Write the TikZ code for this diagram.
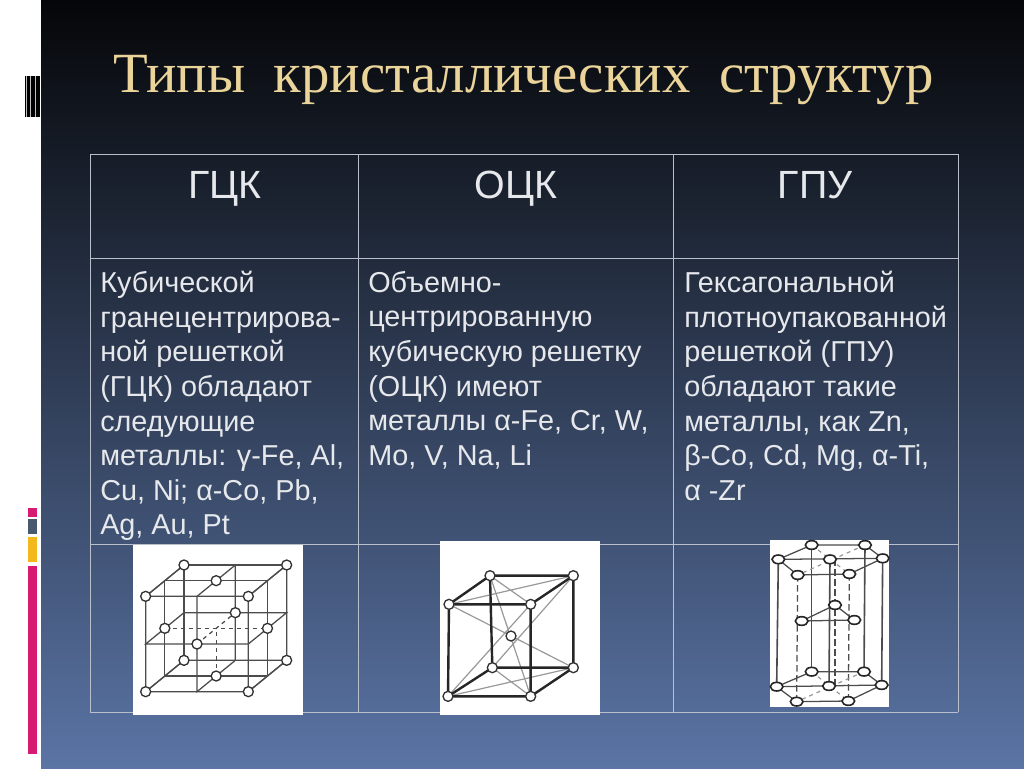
\documentclass[tikz,border=0pt]{standalone}
\usepackage{fontspec}
\usetikzlibrary{shapes.geometric}
\setmainfont{Liberation Sans}
\newfontfamily\titlefont{Liberation Serif}
\definecolor{bgtop}{HTML}{050608}
\definecolor{bgmid}{HTML}{20304A}
\definecolor{bgbot}{HTML}{5A74A4}
\definecolor{titlecol}{HTML}{EAD49A}
\definecolor{cellcol}{HTML}{E6E8EC}
\definecolor{rulecol}{HTML}{B9C0CC}
\definecolor{barpink}{HTML}{D81B72}
\definecolor{bargrey}{HTML}{4A5A6E}
\definecolor{baryellow}{HTML}{F2B81C}
\begin{document}
\begin{tikzpicture}[x=0.75pt,y=-0.75pt]

    \tikzset{
      titletext/.style={
        text=titlecol,
        anchor=base west,
        inner sep=0pt,
        font=\titlefont\fontsize{42.6}{42.6}\selectfont,
      },
      headtext/.style={
        text=cellcol,
        anchor=base,
        inner sep=0pt,
        font=\fontsize{29.5}{30}\selectfont,
      },
      celltext/.style={
        text=cellcol,
        anchor=north west,
        align=left,
        inner sep=0pt,
        font=\fontsize{21.6}{25.95}\selectfont,
      },
      tablerule/.style={color=rulecol,line width=0.7pt},
      thinbar/.style={line width=0.95pt,color=black!70},
      greybar/.style={line width=0.9pt,color=black!40},
      thickbar/.style={line width=1.8pt,color=black!85},
      atom/.style={circle,draw=black!80,fill=white,line width=1pt,inner sep=0pt,minimum size=7.5pt},
      hexatom/.style={ellipse,draw=black!85,fill=white,line width=1.2pt,inner sep=0pt,minimum width=9.5pt,minimum height=6.5pt},
      longdash/.style={dash pattern=on 5pt off 2.5pt},
    }
    \useasboundingbox (0,0) rectangle (1024,768);

    % page
    \shade[top color=bgtop,middle color=bgmid,bottom color=bgbot] (41,0) rectangle (1024,768);
    \fill[white] (0,0) rectangle (41,768);
    \fill[black] (25,76) rectangle (40,117);
    \foreach \x in {26.7,30.6,35.6}
      \fill[white!75!black] (\x-0.6,76) rectangle (\x+0.6,117);
    \fill[barpink] (28,508) rectangle (37,517);
    \fill[bargrey] (28,519) rectangle (37,534);
    \fill[baryellow] (28,537) rectangle (37,562);
    \fill[barpink] (28,566) rectangle (37,754);

    \node[titletext] (title) at (113,92) {Типы\ \ кристаллических\ \ структур};

    % table
    \foreach \n/\x in {a/90,b/358,c/673,d/958} {
      \coordinate (top\n) at (\x,154);
      \coordinate (bot\n) at (\x,712);
    }
    \foreach \n/\y in {a/154,b/258,c/544,d/712} {
      \coordinate (lft\n) at (90,\y);
      \coordinate (rgt\n) at (958,\y);
    }
    \foreach \n in {a,b,c,d} {
      \draw[tablerule] (top\n)--(bot\n);
      \draw[tablerule] (lft\n)--(rgt\n);
    }

    \node[headtext] (fcchead) at (225,198) {ГЦК};
    \node[headtext] (bcchead) at (516,198) {ОЦК};
    \node[headtext] (hcphead) at (815,198) {ГПУ};

    \node[celltext] (fcctext) at (100,271) {Кубической\\гранецентрирова-\\ной решеткой\\(ГЦК) обладают\\следующие\\металлы: γ-Fe, Al,\\Cu, Ni; α-Co, Pb,\\Ag, Au, Pt};
    \node[celltext] (bcctext) at (368,271) {Объемно-\\центрированную\\кубическую решетку\\(ОЦК) имеют\\металлы α-Fe, Cr, W,\\Mo, V, Na, Li};
    \node[celltext] (hcptext) at (684,271) {Гексагональной\\плотноупакованной\\решеткой (ГПУ)\\обладают такие\\металлы, как Zn,\\β-Co, Cd, Mg, α-Ti,\\α -Zr};

    % white backs of the cells
    \fill[white] (133,545) rectangle (303,715);
    \fill[white] (440,541) rectangle (600,715);
    \fill[white] (770,540) rectangle (889,707);

    % face centred cube
    \begin{scope}[shift={(125,535)},x=0.25pt,y=-0.25pt]
      \foreach \i in {0,1,2}
        \foreach \j in {0,1,2}
          \foreach \k in {0,1,2}
            \coordinate (f\i\j\k) at ({62+\i*154+\k*57.5},{470-\j*143-\k*47});
      \foreach \k in {0,1,2}
        \draw[thinbar] (f00\k)--(f20\k)--(f22\k)--(f02\k)--cycle;
      \foreach \i in {0,1,2} {
        \draw[thinbar] (f\i00)--(f\i02)--(f\i22)--(f\i20)--cycle;
        \draw[thinbar] (f0\i0)--(f0\i2)--(f2\i2)--(f2\i0)--cycle;
      }
      \draw[thinbar,dashed] (f101)--(f111);
      \draw[thinbar,dashed] (f011)--(f211);
      \draw[thinbar,dashed] (f110)--(f112);
      \foreach \p in {000,200,020,220,002,202,022,222,110,112,011,211,101,121}
        \node[atom] (fa\p) at (f\p) {};
    \end{scope}

    % body centred cube
    \begin{scope}[shift={(430,535)},x=0.25pt,y=-0.25pt]
      \foreach \n/\x/\y in {a/180/122,b/430/122,c/57/208,d/302/208,e/243/303,f/187/398,g/430/398,h/54/484,i/302/484}
        \coordinate (b\n) at (\x,\y);
      \draw[greybar] (bc)--(bb) (ba)--(bd) (bh)--(bg) (bf)--(bi);
      \draw[greybar] (bc)--(bg) (ba)--(bi) (bd)--(bh) (bb)--(bf);
      \draw[thickbar] (ba)--(bb)--(bd)--(bc)--cycle;
      \draw[thickbar] (bf)--(bg)--(bi)--(bh)--cycle;
      \draw[thickbar] (ba)--(bf) (bb)--(bg) (bc)--(bh) (bd)--(bi);
      \foreach \n in {a,b,c,d,e,f,g,h,i}
        \node[atom] (ba\n) at (b\n) {};
    \end{scope}

    % hexagonal cell
    \begin{scope}[shift={(760,535)},x=0.25pt,y=-0.25pt]
      \foreach \n/\x/\y in {a/155/30,b/315/30,c/368/70,d/268/117,e/113/120,f/55/73,g/210/73,k/225/73}
        \coordinate (ht\n) at (\x,\y);
      \foreach \n/\x/\y in {a/155/410,b/312/410,c/365/450,d/265/498,e/110/500,f/50/455,g/207/453,k/225/453}
        \coordinate (hb\n) at (\x,\y);
      \coordinate (hma) at (225,210);
      \coordinate (hmb) at (125,258);
      \coordinate (hmc) at (283,255);
      \foreach \n in {a,b,c,f,g}
        \draw[thinbar,line width=1.2pt] (ht\n)--(hb\n);
      \foreach \n in {d,e,k}
        \draw[thinbar,longdash] (ht\n)--(hb\n);
      \foreach \l in {t,b} {
        \draw[thinbar] (h\l a)--(h\l b)--(h\l c)--(h\l d)--(h\l e)--(h\l f)--cycle;
        \draw[thinbar] (h\l f)--(h\l c);
        \draw[greybar,dashed] (h\l a)--(h\l d);
        \draw[greybar,dashed] (h\l b)--(h\l e);
      }
      \draw[thinbar] (hma)--(hmb)--(hmc)--cycle;
      \foreach \l in {t,b}
        \foreach \n in {a,b,c,d,e,f,g}
          \node[hexatom] (ha\l\n) at (h\l\n) {};
      \foreach \n in {a,b,c}
        \node[hexatom] (ham\n) at (hm\n) {};
    \end{scope}

\end{tikzpicture}
\end{document}
